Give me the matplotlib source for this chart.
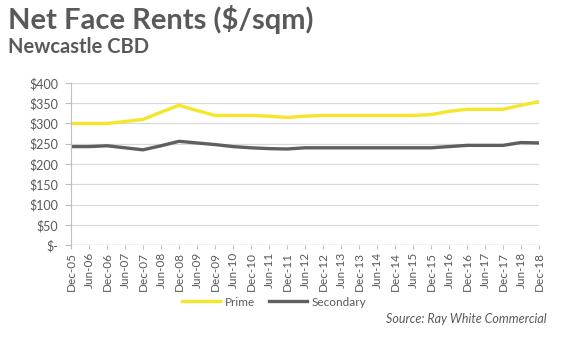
import matplotlib
matplotlib.use("Agg")
import matplotlib.pyplot as plt
from matplotlib.lines import Line2D

plt.rcParams['font.family'] = ['Lato', 'DejaVu Sans']

periods = ['Dec-05', 'Jun-06', 'Dec-06', 'Jun-07', 'Dec-07', 'Jun-08', 'Dec-08',
           'Jun-09', 'Dec-09', 'Jun-10', 'Dec-10', 'Jun-11', 'Dec-11', 'Jun-12',
           'Dec-12', 'Jun-13', 'Dec-13', 'Jun-14', 'Dec-14', 'Jun-15', 'Dec-15',
           'Jun-16', 'Dec-16', 'Jun-17', 'Dec-17', 'Jun-18', 'Dec-18']
prime = [300, 300, 300, 305, 310, 328, 345, 332, 320, 320, 320, 318, 315, 318,
         320, 320, 320, 320, 320, 320, 322, 330, 335, 335, 335, 345, 354]
secondary = [243, 243, 245, 240, 235, 245, 256, 252, 248, 243, 240, 238, 237, 240,
             240, 240, 240, 240, 240, 240, 240, 243, 246, 246, 246, 253, 252]
y_ticks = [0, 50, 100, 150, 200, 250, 300, 350, 400]
y_labels = ['$-', '$50', '$100', '$150', '$200', '$250', '$300', '$350', '$400']

yellow = '#f5e62a'
dark = '#5f5f5f'
text_col = '#595959'

fig = plt.figure(figsize=(5.8, 3.52), dpi=100)
ax = fig.add_axes([71 / 580, 1 - 245 / 352, 468 / 580, 162 / 352])

x = list(range(len(periods)))
ax.plot(x, prime, color=yellow, lw=2.4, solid_joinstyle='round')
ax.plot(x, secondary, color=dark, lw=2.4, solid_joinstyle='round')

ax.set_xlim(0, len(periods) - 1)
ax.set_ylim(0, 400)
ax.set_yticks(y_ticks)
ax.set_yticklabels(y_labels)
ax.set_xticks(x)
ax.set_xticklabels(periods, rotation=90)
ax.grid(axis='y', color='#d9d9d9', lw=0.9)
ax.set_axisbelow(True)
for s in ['top', 'right']:
    ax.spines[s].set_visible(False)
ax.spines['bottom'].set_visible(False)
ax.spines['left'].set_color('#bfbfbf')
ax.tick_params(axis='y', length=4, color='#bfbfbf', labelsize=9, labelcolor=text_col, pad=5)
ax.tick_params(axis='x', length=3, color='#bfbfbf', labelsize=8.5, labelcolor=text_col, pad=2)
ax.axhline(0, color='#bfbfbf', lw=0.9)

fig.text(8 / 580, 1 - 19 / 352, 'Net Face Rents ($/sqm)', fontsize=21, fontweight='bold',
         color=text_col, va='center', ha='left')
fig.text(8 / 580, 1 - 47 / 352, 'Newcastle CBD', fontsize=14.5, fontweight='bold',
         color=text_col, va='center', ha='left')

handles = [Line2D([], [], color=yellow, lw=2.4), Line2D([], [], color=dark, lw=2.4)]
fig.legend(handles, ['Prime', 'Secondary'], loc='center', bbox_to_anchor=(274 / 580, 1 - 302 / 352),
           ncol=2, frameon=False, fontsize=8.5, labelcolor=text_col, handlelength=3.2,
           handletextpad=0.4, columnspacing=1.2)

fig.text(547 / 580, 1 - 319 / 352, 'Source: Ray White Commercial', fontsize=9,
         style='italic', color=text_col, ha='right', va='center')

fig.savefig('out.png', dpi=100)
